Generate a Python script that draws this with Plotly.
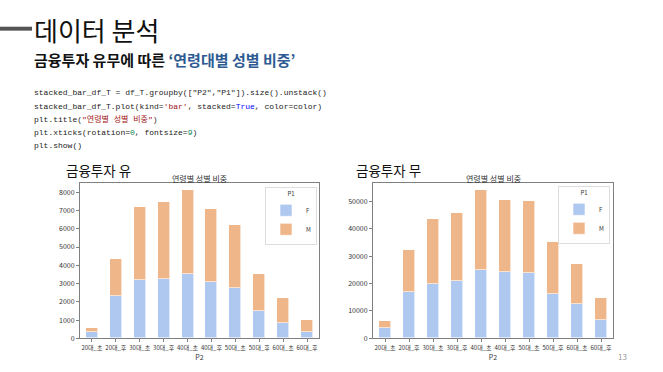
import plotly.graph_objects as go

W, H = 663, 372

categories = ["20대_초", "20대_후", "30대_초", "30대_후", "40대_초",
              "40대_후", "50대_초", "50대_후", "60대_초", "60대_후"]

# 금융투자 유 (left chart)
yes_F = [360, 2290, 3180, 3270, 3510, 3090, 2730, 1510, 820, 330]
yes_M = [220, 2055, 4000, 4220, 4600, 3965, 3470, 2017, 1380, 690]

# 금융투자 무 (right chart)
no_F = [3870, 16950, 19730, 21070, 25060, 24090, 23850, 16220, 12350, 6660]
no_M = [2430, 15130, 23730, 24570, 28940, 26510, 26270, 19010, 14650, 8230]

yes_ticks = [0, 1000, 2000, 3000, 4000, 5000, 6000, 7000, 8000]
no_ticks = [0, 10000, 20000, 30000, 40000, 50000]

COL_F = "#aec8ef"
COL_M = "#efb68a"
KFONT = "Noto Sans CJK KR"

def px_x(p):
    return p / W

def px_y(p):
    return 1 - p / H

fig = go.Figure()

for xa, ya, leg, F, M in [("x", "y", "legend", yes_F, yes_M),
                          ("x2", "y2", "legend2", no_F, no_M)]:
    fig.add_trace(go.Bar(x=categories, y=F, name="F", marker_color=COL_F,
                         marker_line=dict(color="rgba(255,255,255,0.6)", width=1),
                         width=0.5, xaxis=xa, yaxis=ya, legend=leg))
    fig.add_trace(go.Bar(x=categories, y=M, name="M", marker_color=COL_M,
                         marker_line=dict(color="rgba(255,255,255,0.6)", width=1),
                         width=0.5, xaxis=xa, yaxis=ya, legend=leg))

axis_common = dict(showline=True, linecolor="#808080", linewidth=1, mirror=True,
                   ticks="outside", ticklen=3, tickcolor="#808080",
                   showgrid=False, zeroline=False)

xcommon = dict(type="category", range=[-0.5, 9.5], tickangle=0,
               tickfont=dict(family=KFONT, size=6, color="#333"),
               title=dict(text="P2", font=dict(family=KFONT, size=7, color="#333"), standoff=1))
ycommon = dict(tickformat="d", tickfont=dict(family=KFONT, size=7, color="#333"))

y0, y1 = px_y(342), px_y(185)
legend_common = dict(xanchor="right", yanchor="top",
                     bgcolor="white", bordercolor="#dddddd", borderwidth=1,
                     font=dict(family=KFONT, size=6, color="#333"),
                     title=dict(text="P1", side="top center",
                                font=dict(family=KFONT, size=6, color="#333")),
                     itemwidth=30, tracegroupgap=0, traceorder="normal")
fig.update_layout(
    width=W, height=H, margin=dict(l=0, r=0, t=0, b=0),
    paper_bgcolor="white", plot_bgcolor="white",
    barmode="stack", bargap=0,
    xaxis=dict(domain=[px_x(80), px_x(319)], anchor="y", **xcommon, **axis_common),
    yaxis=dict(domain=[y0, y1], anchor="x", range=[0, 8505], tickvals=yes_ticks,
               **ycommon, **axis_common),
    xaxis2=dict(domain=[px_x(373), px_x(613)], anchor="y2", **xcommon, **axis_common),
    yaxis2=dict(domain=[y0, y1], anchor="x2", range=[0, 56700], tickvals=no_ticks,
                **ycommon, **axis_common),
    legend=dict(x=px_x(317), y=px_y(189), **legend_common),
    legend2=dict(x=px_x(610), y=px_y(188), **legend_common),
    showlegend=True,
)

anns = []
# Slide title
anns.append(dict(x=px_x(32), y=px_y(30), xanchor="left", yanchor="middle",
                 text="데이터 분석", font=dict(family=KFONT, size=26, color="#111")))
anns.append(dict(x=px_x(32), y=px_y(60), xanchor="left", yanchor="middle",
                 text="<b>금융투자 유무에 따른 <span style='color:#2e5b92'>‘연령대별 성별 비중’</span></b>",
                 font=dict(family=KFONT, size=15, color="#111")))

code_lines = [
    'stacked_bar_df_T = df_T.groupby(["P2","P1"]).size().unstack()',
    "stacked_bar_df_T.plot(kind=<span style='color:#a31515'>'bar'</span>, stacked=<span style='color:#0000ff'>True</span>, color=color)",
    "plt.title(<span style='color:#a31515'>\"연령별 성별 비중\"</span>)",
    "plt.xticks(rotation=<span style='color:#098658'>0</span>, fontsize=<span style='color:#098658'>9</span>)",
    "plt.show()",
]
code_y = [94, 107.5, 120.5, 134, 147]
for t, yy in zip(code_lines, code_y):
    anns.append(dict(x=px_x(32), y=px_y(yy), xanchor="left", yanchor="middle",
                     text=t, font=dict(family="Liberation Mono, " + KFONT, size=8, color="#222")))

# headings
anns.append(dict(x=px_x(64), y=px_y(172), xanchor="left", yanchor="middle",
                 text="금융투자 유", font=dict(family=KFONT, size=13.5, color="#111")))
anns.append(dict(x=px_x(354), y=px_y(172), xanchor="left", yanchor="middle",
                 text="금융투자 무", font=dict(family=KFONT, size=13.5, color="#111")))
# chart titles
anns.append(dict(x=px_x(199.5), y=px_y(180), xanchor="center", yanchor="middle",
                 text="연령별 성별 비중", font=dict(family=KFONT, size=8, color="#333")))
anns.append(dict(x=px_x(493), y=px_y(180), xanchor="center", yanchor="middle",
                 text="연령별 성별 비중", font=dict(family=KFONT, size=8, color="#333")))
# page number
anns.append(dict(x=px_x(622), y=px_y(360), xanchor="center", yanchor="middle",
                 text="13", font=dict(family=KFONT, size=8, color="#999")))

for a in anns:
    a.update(xref="paper", yref="paper", showarrow=False)
fig.update_layout(annotations=anns)

fig.add_shape(type="rect", xref="paper", yref="paper",
              x0=0, x1=px_x(32), y0=px_y(31), y1=px_y(27),
              fillcolor="#555555", line_width=0)

fig.write_html("out.html", config={"displayModeBar": False},
               post_script="document.body.style.margin='0px';document.body.style.overflow='hidden';")
